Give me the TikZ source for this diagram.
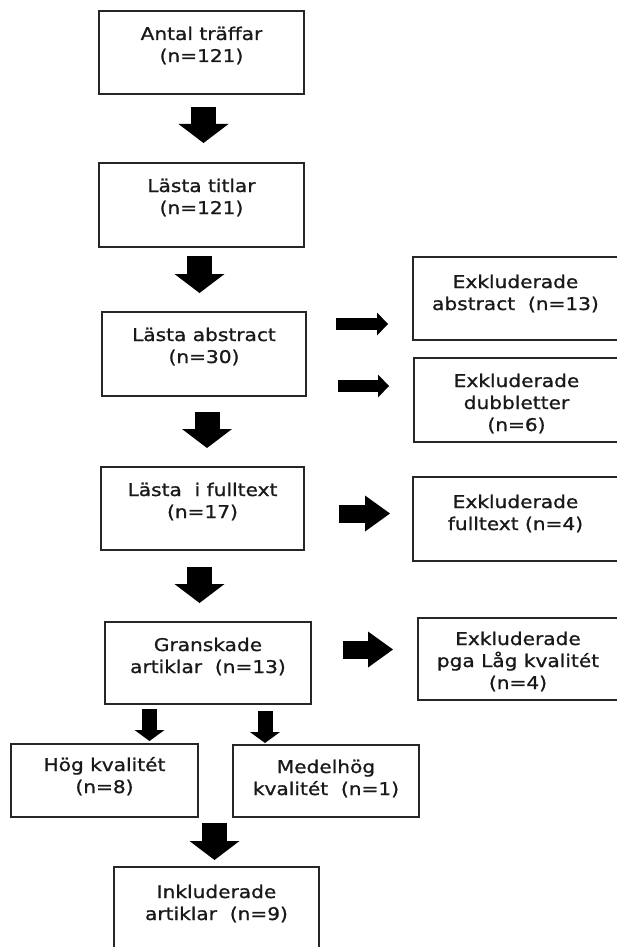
\documentclass[tikz,border=0pt]{standalone}
\usepackage{fontspec}
\setmainfont{DejaVu Sans}[FakeStretch=1.15,FakeBold=1]
\usetikzlibrary{arrows.meta}
\usetikzlibrary{calc}
\tikzset{stage/.style={draw=black!85,
                       line width=1.3pt,
                       inner sep=0pt,
                       outer sep=0pt,
                       anchor=north west,
                       text=black!90,
                       font=\fontsize{17.5}{22}\selectfont}}
\tikzset{block/.style={draw=black, line cap=butt}}
\tikzset{big down/.style={block, line width=25pt,
                          -{Triangle[length=19pt,width=50pt,line width=0pt]}}}
\tikzset{small down/.style={block, line width=15pt,
                            -{Triangle[length=11pt,width=30pt,line width=0pt]}}}
\tikzset{thin right/.style={block, line width=12pt,
                            -{Triangle[length=11pt,width=23pt,line width=0pt]}}}
\tikzset{wide right/.style={block, line width=18pt,
                            -{Triangle[length=25pt,width=36pt,line width=0pt]}}}
\newcommand{\stagetext}[3][29pt]{\parbox[c][#2][t]{180pt}{\centering\rule{0pt}{#1}#3}}

\begin{document}
\begin{tikzpicture}[x=1pt,y=-1pt]
    \path [use as bounding box, fill=white] (0,0) rectangle (617,947);
    \clip (0,0) rectangle (617,947);

    % main column
    \node [stage, minimum width=205pt] (hits) at (99,11) {\stagetext{83pt}{Antal träffar\\(n=121)}};
    \node [stage, minimum width=205pt] (titles) at (99,163) {\stagetext{84pt}{Lästa titlar\\(n=121)}};
    \node [stage, minimum width=204pt] (abstr) at (102,312) {\stagetext{84pt}{Lästa abstract\\(n=30)}};
    \node [stage, minimum width=203pt] (full) at (101,467) {\stagetext{83pt}{Lästa~ i fulltext\\(n=17)}};
    \node [stage, minimum width=206pt] (gran) at (105,622) {\stagetext{82pt}{Granskade\\artiklar~ (n=13)}};
    \node [stage, minimum width=187pt] (hog) at (11,744) {\stagetext[27pt]{73pt}{Hög kvalitét\\(n=8)}};
    \node [stage, minimum width=186pt] (medel) at (233,745) {\stagetext[28pt]{72pt}{Medelhög\\kvalitét~ (n=1)}};
    \node [stage, minimum width=205pt] (inkl) at (114,867) {\stagetext[31pt]{85pt}{Inkluderade\\artiklar~ (n=9)}};

    % excluded
    \node [stage, minimum width=205pt] (exabs) at (413,257) {\stagetext[31pt]{83pt}{Exkluderade\\abstract~ (n=13)}};
    \node [stage, minimum width=205pt] (dubb) at (414,358) {\stagetext{84pt}{Exkluderade\\dubbletter\\(n=6)}};
    \node [stage, minimum width=205pt] (exfull) at (413,477) {\stagetext[31pt]{84pt}{Exkluderade\\fulltext (n=4)}};
    \node [stage, minimum width=200pt] (lag) at (418,618) {\stagetext[27pt]{82pt}{Exkluderade\\pga Låg kvalitét\\(n=4)}};

    % down arrows
    \draw [big down] ($(hits.south)+(2,13)$) -- ($(titles.north)+(2,-20)$);
    \draw [big down] ($(titles.south)+(-2,9)$) -- ($(abstr.north)+(-4.5,-19)$);
    \draw [big down] ($(abstr.south)+(3,16)$) -- ($(full.north)+(4.5,-19)$);
    \draw [big down] ($(full.south)+(-3,17)$) -- ($(gran.north)+(-8.5,-19)$);
    \draw [small down] ($(gran.south west)+(44.5,5)$) -- ($(hog.north)+(45,-3)$);
    \draw [small down] ($(gran.south)+(57,7)$) -- ($(medel.north)+(-61,-2)$);
    \draw [big down] ($($(hog.south east)!0.5!(medel.south west)$)+(-1,6)$) -- ($(inkl.north)+(-2,-7)$);

    % right arrows
    \draw [thin right] ($(abstr.north east)+(30,12)$) -- ($(exabs.south west)+(-25,-16)$);
    \draw [thin right] ($(abstr.north east)+(32,74)$) -- ($(dubb.north west)+(-25,28)$);
    \draw [wide right] ($(full.north east)+(35,46.5)$) -- ($(exfull.north west)+(-23,36.5)$);
    \draw [wide right] ($(gran.north east)+(32,27.5)$) -- ($(lag.north west)+(-25,31.5)$);

\end{tikzpicture}
\end{document}
